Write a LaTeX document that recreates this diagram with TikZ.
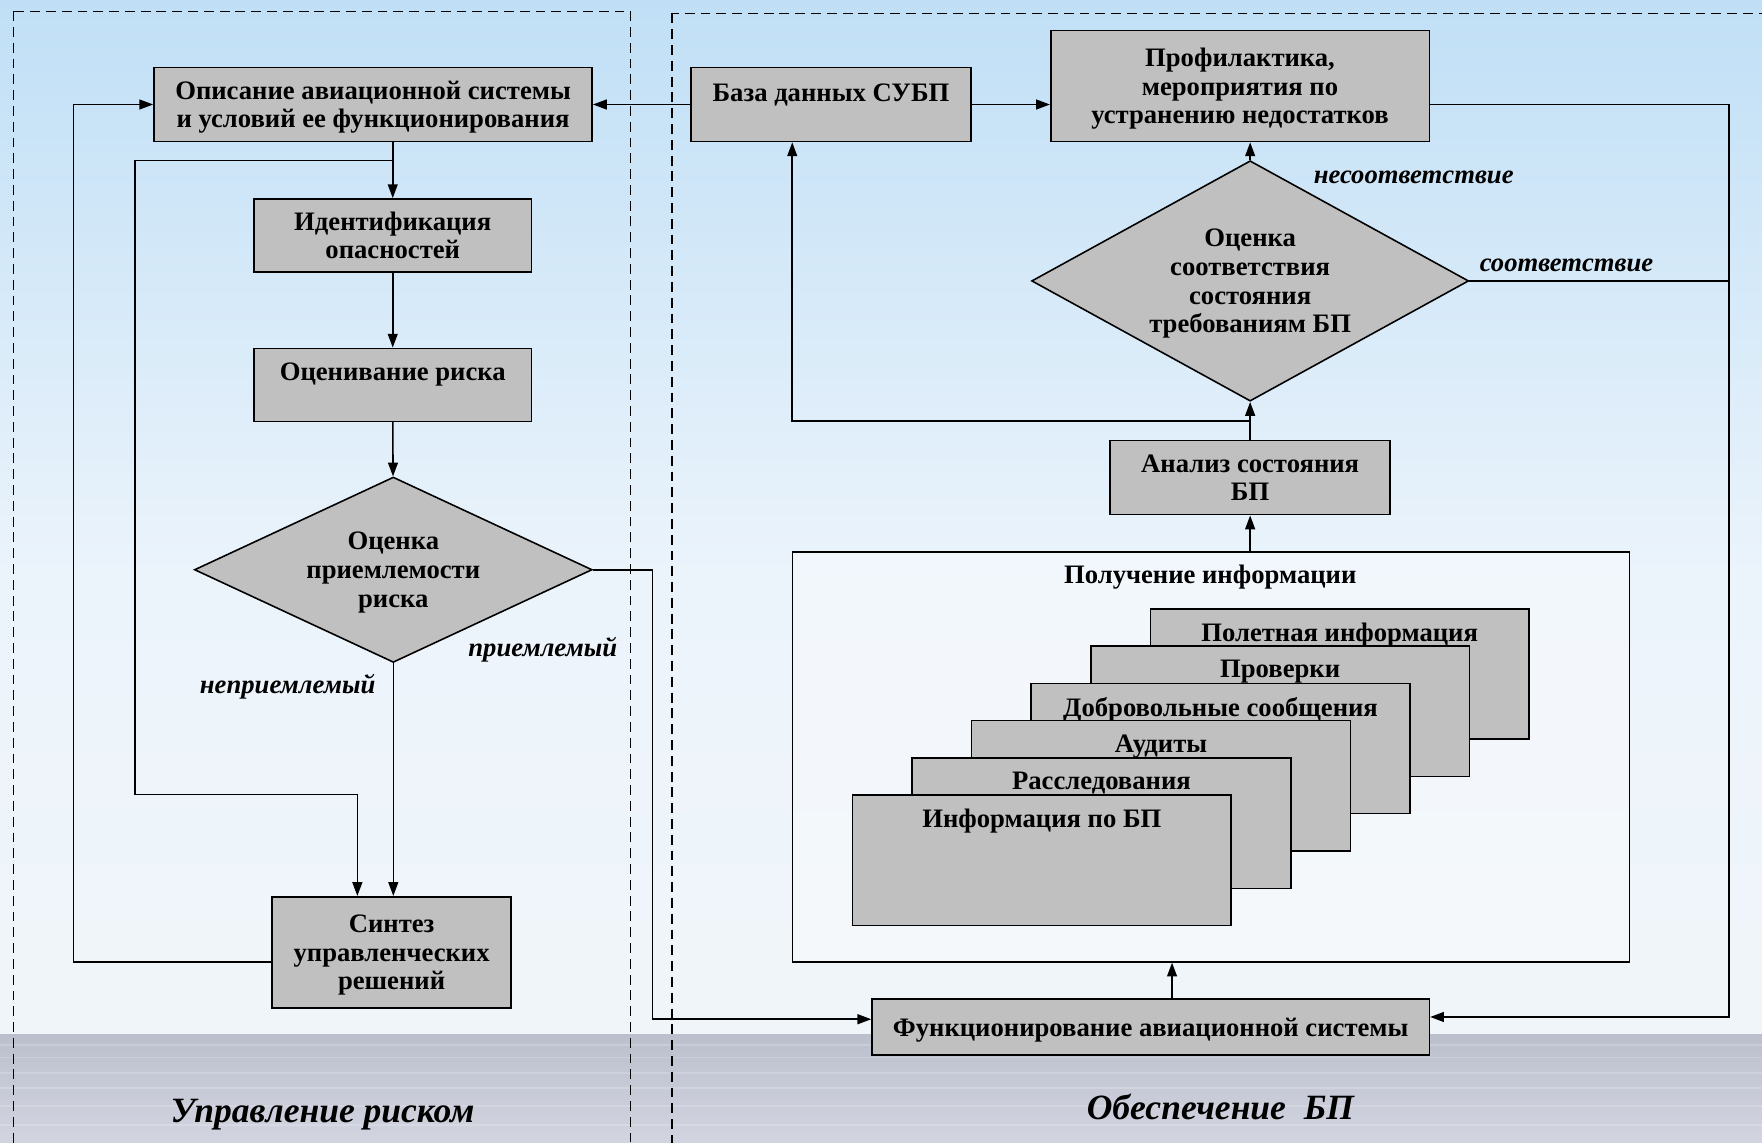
\documentclass[tikz,border=0pt]{standalone}
\usepackage{fontspec}
\setmainfont{Liberation Serif}
\usetikzlibrary{positioning, arrows.meta, shapes.geometric, calc}

\definecolor{boxgray}{RGB}{192,192,192}
\definecolor{skytop}{RGB}{192,223,246}
\definecolor{skymid}{RGB}{236,244,251}
\definecolor{skylow}{RGB}{240,245,249}
\definecolor{seatop}{RGB}{188,192,205}
\definecolor{seabot}{RGB}{210,213,224}

\begin{document}
\begin{tikzpicture}[
    x=0.02cm, y=-0.02cm,
    font=\fontsize{13.5}{14.5}\selectfont\bfseries,
    block/.style={rectangle, draw=black, fill=boxgray, line width=0.8pt, align=center, inner sep=2pt, text depth=0pt},
    decision/.style={diamond, draw=black, fill=boxgray, line width=0.8pt, align=center, inner sep=0pt, text depth=0pt},
    card/.style={block, minimum width=6.74cm, minimum height=2.32cm},
    arrow/.style={-{Triangle[length=7pt, width=5pt]}, line width=0.8pt},
    link/.style={line width=0.8pt},
    verdict/.style={font=\fontsize{13.5}{15}\selectfont\bfseries\itshape},
    zone/.style={draw=black, dash pattern=on 5pt off 3pt, line width=0.6pt},
    caption/.style={font=\fontsize{18}{20}\selectfont\bfseries\itshape}
]
    % background: sky and sea
    \useasboundingbox (0,0) rectangle (1568,1017);
    \shade[top color=skytop, bottom color=skymid] (0,0) rectangle (1568,520);
    \shade[top color=skymid, bottom color=skylow] (0,520) rectangle (1568,921);
    \shade[top color=seatop, bottom color=seabot] (0,921) rectangle (1568,1017);
    \foreach \y in {930,941,955,968,984,1001}
        \draw[white, opacity=0.18, line width=0.8pt] (0,\y) -- (1568,\y);

    \draw[zone] (12,10) rectangle (561,1040);
    \draw[zone] (598,12) rectangle (1590,1040);

    % risk management
    \node[block, minimum width=7.8cm, minimum height=1.32cm] (desc) at (332,93) {Описание авиационной системы\\и условий ее функционирования};
    \node[block, minimum width=4.94cm, minimum height=1.3cm] (hazard) at (349.5,209.5) {Идентификация\\опасностей};
    \node[block, minimum width=4.94cm, minimum height=1.3cm, label={[anchor=north, yshift=-4pt]north:Оценивание риска}] (assess) at (349.5,342.5) {};
    \node[decision, aspect=2.15, minimum width=7.08cm, minimum height=3.3cm] (accept) at (350,507) {Оценка\\приемлемости\\риска};
    \node[block, minimum width=4.26cm, minimum height=1.98cm] (synth) at (348.5,847.5) {Синтез\\управленческих\\решений};

    % safety assurance
    \node[block, minimum width=4.98cm, minimum height=1.32cm, label={[anchor=north, yshift=-5pt]north:База данных СУБП}] (sms) at (739.5,93) {};
    \node[block, minimum width=6.74cm, minimum height=1.98cm] (prevent) at (1103.5,76.5) {Профилактика,\\мероприятия по\\устранению недостатков};
    \node[decision, aspect=1.82, minimum width=7.78cm, minimum height=4.28cm] (comply) at (1112.5,250) {Оценка\\соответствия\\состояния\\требованиям БП};
    \node[block, minimum width=4.98cm, minimum height=1.32cm] (analysis) at (1112.5,425) {Анализ состояния\\БП};
    \node[draw=black, line width=0.8pt, fill=white, fill opacity=0.35, minimum width=14.9cm, minimum height=7.3cm] (gather) at (1077.5,673.5) {};
    \node (gathertitle) at (1077,514) {Получение информации};
    \foreach \name/\txt [count=\i from 0] in {flight/Полетная информация, checks/Проверки, reports/Добровольные сообщения, audits/Аудиты, probes/Расследования, bpinfo/Информация по БП}
        \node[card, anchor=north west, label={[anchor=north, yshift=-4pt]north:\txt}] (\name) at ({1023-53*\i},{541+33.2*\i}) {};
    \node[block, minimum width=9.92cm, minimum height=1.0cm] (operate) at (1024,914) {Функционирование авиационной системы};

    % connectors
    \coordinate (fork) at (349.5,143);
    \coordinate (fork2) at ($(analysis.north)!0.5!(comply.south)$);
    \draw[arrow] (sms) -- (desc);
    \draw[arrow] (sms.east) -- (sms.east -| prevent.west);
    \draw[arrow] (desc.south -| hazard.north) -- (hazard.north);
    \draw[arrow] (fork) -| (120,707) -| ([xshift=-0.61cm]synth.north);
    \draw[arrow] (hazard) -- (assess);
    \draw[arrow] (assess) -- (accept);
    \draw[arrow] (accept.south) -- (accept.south |- synth.north);
    \draw[arrow] ([yshift=-0.17cm]synth.west) -| ([xshift=-1.42cm]desc.west) -- (desc.west);
    \draw[arrow] (accept.east) -- ++(53,0) |- ([yshift=0.14cm]operate.west);
    \draw[arrow] (prevent.east |- sms.east) -- ++(266,0) |- ([yshift=0.18cm]operate.east);
    \draw[link] (comply.east) -- ++(231,0);
    \draw[arrow] (comply.north) -- (comply.north |- prevent.south);
    \draw[arrow] (analysis) -- (comply);
    \draw[arrow] (fork2) -| ([xshift=-0.69cm]sms.south);
    \draw[arrow] (analysis.south |- gather.north) -- (analysis.south);
    \draw[arrow] ([xshift=0.38cm]operate.north) -- ([xshift=0.38cm]operate.north |- gather.south);

    % labels
    \node[verdict] (reject) at (256,611) {неприемлемый};
    \node[verdict] (pass) at (483,578) {приемлемый};
    \node[verdict] (mismatch) at (1258,158) {несоответствие};
    \node[verdict] (match) at (1394,236) {соответствие};
    \node[caption] (riskzone) at (287,992) {Управление риском};
    \node[caption] (safetyzone) at (1086,985) {Обеспечение\ \ БП};
\end{tikzpicture}
\end{document}
